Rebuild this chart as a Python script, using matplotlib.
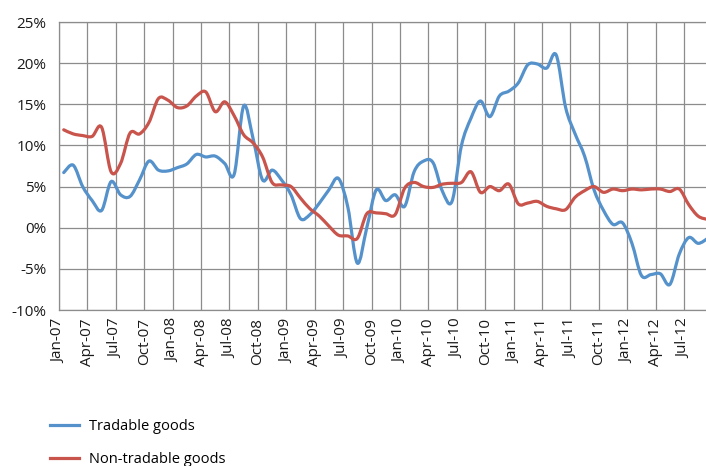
import numpy as np
import matplotlib
matplotlib.use("Agg")
import matplotlib.pyplot as plt
from matplotlib.path import Path
from matplotlib.patches import PathPatch
from matplotlib.lines import Line2D
from matplotlib.ticker import FuncFormatter, MultipleLocator

# monthly year-on-year inflation, Jan-07 .. Sep-12
months = ['Jan', 'Feb', 'Mar', 'Apr', 'May', 'Jun',
          'Jul', 'Aug', 'Sep', 'Oct', 'Nov', 'Dec']
start_year = 2007

tradable = [6.7, 7.6, 5.0, 3.3, 2.1, 5.6, 4.0, 3.8, 5.8, 8.1, 7.0, 6.9,
            7.3, 7.75, 8.9, 8.6, 8.7, 7.8, 6.5, 14.8, 10.8, 5.8, 7.0, 5.8,
            4.0, 1.1, 1.6, 3.0, 4.6, 6.0, 2.5, -4.3, 0.0, 4.6, 3.3, 4.0,
            2.6, 6.8, 8.1, 7.9, 4.4, 3.2, 10.0, 13.3, 15.4, 13.5, 16.0, 16.6,
            17.6, 19.8, 19.9, 19.4, 21.0, 14.6, 11.4, 8.7, 4.6, 2.1, 0.4, 0.6,
            -1.9, -5.8, -5.7, -5.6, -6.9, -3.2, -1.2, -1.9, -1.3]

non_tradable = [11.9, 11.4, 11.2, 11.1, 12.2, 6.8, 7.8, 11.5, 11.4, 12.8, 15.7, 15.5,
                14.6, 14.8, 16.0, 16.5, 14.1, 15.3, 13.6, 11.3, 10.3, 8.6, 5.5, 5.2,
                5.0, 3.6, 2.3, 1.4, 0.2, -0.9, -1.0, -1.3, 1.7, 1.8, 1.7, 1.6,
                4.8, 5.5, 5.0, 4.9, 5.3, 5.4, 5.5, 6.8, 4.3, 5.0, 4.5, 5.3,
                2.9, 3.0, 3.2, 2.6, 2.3, 2.2, 3.7, 4.5, 5.0, 4.3, 4.7, 4.5,
                4.7, 4.6, 4.7, 4.7, 4.4, 4.7, 2.8, 1.4, 1.0]

series_names = ['Tradable goods', 'Non-tradable goods']
colors = ['#5592CB', '#C9544C']


def smooth_path(xs, ys):
    # Bezier path through every point (Catmull-Rom style, like a smoothed chart line)
    pts = np.column_stack([xs, ys])
    verts = [pts[0]]
    codes = [Path.MOVETO]
    for i in range(len(pts) - 1):
        p0 = pts[max(i - 1, 0)]
        p1 = pts[i]
        p2 = pts[i + 1]
        p3 = pts[min(i + 2, len(pts) - 1)]
        verts += [p1 + (p2 - p0) / 6.0, p2 - (p3 - p1) / 6.0, p2]
        codes += [Path.CURVE4] * 3
    return Path(verts, codes)


n = len(tradable)
x = np.arange(n) + 0.5
tick_pos = np.arange(0, n, 3)
tick_labels = ['%s-%02d' % (months[i % 12], (start_year + i // 12) % 100) for i in tick_pos]

plt.rcParams['font.family'] = ['Open Sans', 'DejaVu Sans']

fig = plt.figure(figsize=(7.06, 4.66), dpi=100)
ax = fig.add_axes([59 / 706, 156 / 466, 1 - 59 / 706, 288 / 466])

handles = []
for vals, c, name in zip([tradable, non_tradable], colors, series_names):
    ax.add_patch(PathPatch(smooth_path(x, np.array(vals)), fill=False, edgecolor=c,
                           lw=2.3, joinstyle='round', capstyle='round', zorder=3))
    handles.append(Line2D([], [], color=c, lw=2.3, label=name))

ax.set_xlim(0, 647 / 9.47)
ax.set_ylim(-10, 25)
ax.yaxis.set_major_locator(MultipleLocator(5))
ax.yaxis.set_major_formatter(FuncFormatter(lambda v, p: '%d%%' % v))
ax.set_xticks(tick_pos)
ax.set_xticklabels(tick_labels, rotation=90)

ax.grid(True, color='#8c8c8c', lw=0.9)
ax.set_axisbelow(True)
for s in ax.spines.values():
    s.set_color('#8c8c8c')
    s.set_linewidth(0.9)
ax.spines['right'].set_visible(False)
ax.tick_params(axis='both', length=0, labelsize=11, colors='#1a1a1a')
ax.tick_params(axis='y', pad=9)
ax.tick_params(axis='x', pad=6)

fig.legend(handles=handles, loc='upper left', bbox_to_anchor=(50 / 706, 1 - 419 / 466),
           frameon=False, fontsize=10.5, handlelength=2.0, labelspacing=1.25,
           handletextpad=0.7, borderaxespad=0, borderpad=0)

fig.savefig('out.png', dpi=100)
